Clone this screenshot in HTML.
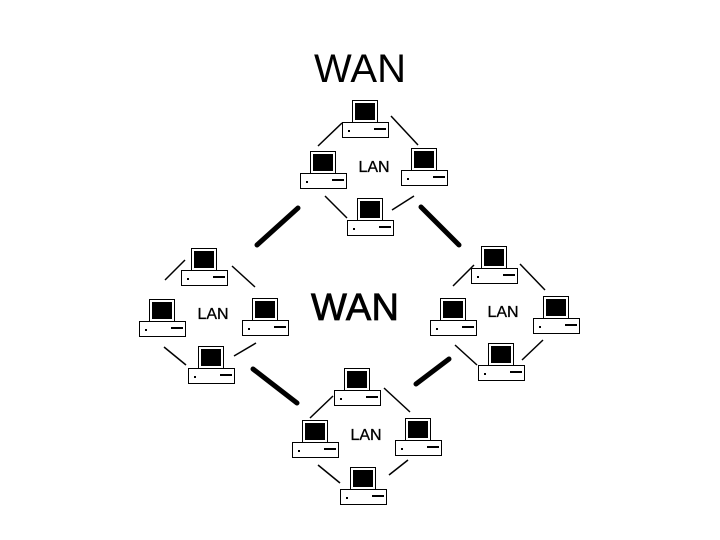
<!DOCTYPE html><html><head><style>body{margin:0;background:#fff}svg{display:block}</style></head><body>
<svg width="720" height="540" xmlns="http://www.w3.org/2000/svg">
<defs><g id="pc">
<rect x="10.5" y="-21.5" width="25" height="22" fill="#fff" stroke="#000"/>
<rect x="13" y="-19" width="20" height="17" fill="#000"/>
<rect x="0.5" y="0.5" width="46" height="15" fill="#fff" stroke="#000"/>
<rect x="6" y="8" width="2" height="2" fill="#000"/>
<rect x="32" y="6" width="12" height="2" fill="#000"/>
</g></defs>
<g font-family="Liberation Sans, sans-serif" fill="#000">
<text x="360" y="82" font-size="40" text-anchor="middle" textLength="92">WAN</text>
<text x="355" y="320" font-size="38" text-anchor="middle" textLength="88" stroke="#000" stroke-width="0.8">WAN</text>
<text x="374" y="172" font-size="16" text-anchor="middle" stroke="#000" stroke-width="0.3">LAN</text>
<text x="213" y="319" font-size="16" text-anchor="middle" stroke="#000" stroke-width="0.3">LAN</text>
<text x="503" y="317" font-size="16" text-anchor="middle" stroke="#000" stroke-width="0.3">LAN</text>
<text x="366" y="440" font-size="16" text-anchor="middle" stroke="#000" stroke-width="0.3">LAN</text>
</g>
<g stroke="#000" stroke-width="1.5">
<line x1="318" y1="146" x2="342" y2="123"/><line x1="391" y1="116" x2="418" y2="145"/><line x1="325" y1="196" x2="347" y2="218"/><line x1="392" y1="210" x2="414" y2="196"/>
<line x1="165" y1="280" x2="185" y2="260"/><line x1="232" y1="266" x2="255" y2="287"/><line x1="164" y1="347" x2="186" y2="365"/><line x1="234" y1="356" x2="256" y2="343"/>
<line x1="453" y1="286" x2="474" y2="265"/><line x1="520" y1="264" x2="545" y2="290"/><line x1="455" y1="345" x2="477" y2="365"/><line x1="522" y1="360" x2="543" y2="340"/>
<line x1="310" y1="418" x2="333" y2="396"/><line x1="384" y1="388" x2="410" y2="412"/><line x1="318" y1="465" x2="340" y2="483"/><line x1="389" y1="475" x2="408" y2="460"/>
</g>
<g stroke="#000" stroke-width="5" stroke-linecap="round">
<line x1="257" y1="245" x2="298" y2="208"/><line x1="421" y1="207" x2="459" y2="245"/><line x1="253" y1="369" x2="297" y2="403"/><line x1="416" y1="384" x2="449" y2="359"/>
</g>
<use href="#pc" x="342" y="122"/><use href="#pc" x="300" y="173"/><use href="#pc" x="401" y="170"/><use href="#pc" x="347" y="220"/>
<use href="#pc" x="181" y="270"/><use href="#pc" x="139" y="321"/><use href="#pc" x="242" y="320"/><use href="#pc" x="188" y="368"/>
<use href="#pc" x="471" y="268"/><use href="#pc" x="430" y="320"/><use href="#pc" x="533" y="318"/><use href="#pc" x="478" y="365"/>
<use href="#pc" x="334" y="390"/><use href="#pc" x="292" y="442"/><use href="#pc" x="395" y="440"/><use href="#pc" x="340" y="489"/>
</svg></body></html>
